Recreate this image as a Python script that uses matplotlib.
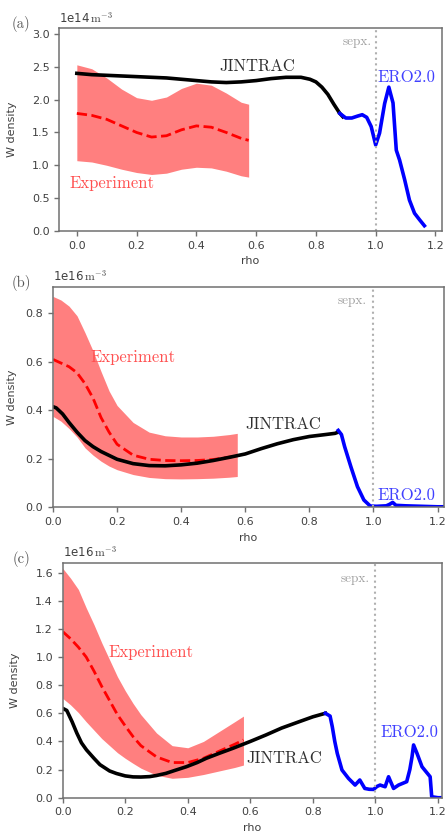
import numpy as np
import matplotlib
matplotlib.use("Agg")
import matplotlib.pyplot as plt

plt.rcParams["mathtext.fontset"] = "cm"
plt.rcParams["font.size"] = 8

# ---------------- panel (a) ----------------
rho_exp_a = [0, 0.05, 0.1, 0.15, 0.2, 0.25, 0.3, 0.35, 0.4, 0.45, 0.5, 0.55, 0.575]
exp_mean_a = [1.79, 1.76, 1.70, 1.60, 1.50, 1.43, 1.45, 1.54, 1.60, 1.58, 1.50, 1.41, 1.38]
exp_upper_a = [2.53, 2.47, 2.33, 2.16, 2.03, 1.99, 2.04, 2.17, 2.25, 2.22, 2.10, 1.96, 1.93]
exp_lower_a = [1.07, 1.05, 1.00, 0.94, 0.89, 0.86, 0.88, 0.94, 0.97, 0.96, 0.91, 0.84, 0.82]
rho_jin_a = [0, 0.05, 0.1, 0.15, 0.2, 0.25, 0.3, 0.35, 0.4, 0.45, 0.5, 0.55, 0.6,
             0.65, 0.7, 0.75, 0.78, 0.8, 0.82, 0.84, 0.86, 0.88, 0.89]
jin_a = [2.40, 2.38, 2.37, 2.36, 2.35, 2.34, 2.33, 2.31, 2.29, 2.27, 2.26, 2.27, 2.29,
         2.32, 2.34, 2.34, 2.31, 2.27, 2.19, 2.08, 1.93, 1.79, 1.74]
rho_ero_a = [0.88, 0.9, 0.92, 0.94, 0.955, 0.97, 0.985, 1.0, 1.013, 1.03, 1.044, 1.058,
             1.069, 1.08, 1.097, 1.113, 1.13, 1.147, 1.163]
ero_a = [1.79, 1.72, 1.72, 1.75, 1.77, 1.73, 1.59, 1.31, 1.49, 1.94, 2.19, 1.95,
         1.23, 1.08, 0.78, 0.47, 0.27, 0.17, 0.08]

# ---------------- panel (b) ----------------
rho_exp_b = [0, 0.025, 0.05, 0.075, 0.1, 0.125, 0.15, 0.175, 0.2, 0.25, 0.3, 0.35,
             0.4, 0.45, 0.5, 0.55, 0.575]
exp_upper_b = [0.87, 0.855, 0.83, 0.79, 0.72, 0.645, 0.56, 0.48, 0.42, 0.35, 0.31, 0.295,
               0.29, 0.29, 0.293, 0.30, 0.305]
exp_mean_b = [0.61, 0.595, 0.58, 0.555, 0.51, 0.45, 0.37, 0.31, 0.26, 0.215, 0.198, 0.193,
              0.192, 0.193, 0.197, 0.207, 0.212]
exp_lower_b = [0.375, 0.355, 0.325, 0.29, 0.245, 0.215, 0.19, 0.17, 0.155, 0.135, 0.123,
               0.118, 0.117, 0.118, 0.12, 0.124, 0.127]
rho_jin_b = [0, 0.01, 0.03, 0.05, 0.075, 0.1, 0.125, 0.15, 0.2, 0.25, 0.3, 0.35, 0.4,
             0.45, 0.5, 0.55, 0.6, 0.65, 0.7, 0.75, 0.8, 0.85, 0.88, 0.89]
jin_b = [0.415, 0.41, 0.385, 0.35, 0.31, 0.275, 0.25, 0.23, 0.198, 0.18, 0.172, 0.171,
         0.175, 0.182, 0.193, 0.206, 0.22, 0.242, 0.262, 0.279, 0.292, 0.30, 0.305, 0.31]
rho_ero_b = [0.89, 0.9, 0.91, 0.93, 0.95, 0.97, 0.99, 1.01, 1.04, 1.05, 1.06, 1.07,
             1.1, 1.15, 1.2, 1.22]
ero_b = [0.317, 0.30, 0.25, 0.165, 0.085, 0.03, 0.005, 0.004, 0.006, 0.012, 0.02, 0.008,
         0.006, 0.004, 0.002, 0.002]

# ---------------- panel (c) ----------------
rho_exp_c = [0, 0.025, 0.05, 0.075, 0.1, 0.125, 0.15, 0.175, 0.2, 0.225, 0.25, 0.3,
             0.35, 0.4, 0.45, 0.5, 0.55, 0.578]
exp_upper_c = [1.63, 1.56, 1.48, 1.35, 1.23, 1.10, 0.98, 0.86, 0.76, 0.67, 0.59, 0.46,
               0.37, 0.355, 0.40, 0.47, 0.54, 0.58]
exp_mean_c = [1.18, 1.13, 1.07, 1.0, 0.90, 0.79, 0.69, 0.59, 0.51, 0.434, 0.37, 0.29,
              0.25, 0.25, 0.28, 0.33, 0.38, 0.41]
exp_lower_c = [0.706, 0.66, 0.605, 0.54, 0.48, 0.42, 0.37, 0.32, 0.28, 0.244, 0.21, 0.16,
               0.138, 0.145, 0.165, 0.19, 0.215, 0.232]
rho_jin_c = [0, 0.013, 0.03, 0.045, 0.06, 0.076, 0.1, 0.119, 0.15, 0.172, 0.2, 0.225,
             0.25, 0.278, 0.3, 0.33, 0.36, 0.395, 0.43, 0.459, 0.5, 0.544, 0.6, 0.65,
             0.7, 0.756, 0.8, 0.84]
jin_c = [0.635, 0.62, 0.54, 0.46, 0.39, 0.34, 0.28, 0.235, 0.19, 0.172, 0.155, 0.148,
         0.147, 0.150, 0.158, 0.173, 0.195, 0.22, 0.25, 0.28, 0.315, 0.351, 0.40, 0.446,
         0.495, 0.54, 0.575, 0.60]
rho_ero_c = [0.84, 0.855, 0.862, 0.87, 0.878, 0.893, 0.914, 0.935, 0.95, 0.966, 0.98,
             0.994, 1.005, 1.015, 1.031, 1.042, 1.058, 1.074, 1.1, 1.11, 1.117, 1.122,
             1.133, 1.149, 1.175, 1.18, 1.2, 1.21]
ero_c = [0.60, 0.58, 0.505, 0.40, 0.315, 0.197, 0.137, 0.09, 0.126, 0.066, 0.06, 0.059,
         0.08, 0.09, 0.078, 0.149, 0.066, 0.09, 0.114, 0.20, 0.29, 0.375, 0.315, 0.22,
         0.149, 0.007, 0.0, 0.0]

panels = [
    dict(tag="(a)", rect=[0.1334, 0.7224, 0.857, 0.2439],
         xlim=(-0.058, 1.221), ylim=(0, 3.09), yticks=np.arange(0, 3.01, 0.5),
         rho_exp=rho_exp_a, mean=exp_mean_a, up=exp_upper_a, lo=exp_lower_a,
         rho_jin=rho_jin_a, jin=jin_a, rho_ero=rho_ero_a, ero=ero_a,
         ylab_x=-0.111,
         t_exp=(0.117, 0.73), t_jin=(0.603, 2.50), t_ero=(1.103, 2.345), t_sep=(0.985, 2.88),
         scale="1e14"),
    dict(tag="(b)", rect=[0.1188, 0.3903, 0.8767, 0.2651],
         xlim=(0, 1.22), ylim=(0, 0.91), yticks=np.arange(0, 0.81, 0.2),
         rho_exp=rho_exp_b, mean=exp_mean_b, up=exp_upper_b, lo=exp_lower_b,
         rho_jin=rho_jin_b, jin=jin_b, rho_ero=rho_ero_b, ero=ero_b,
         ylab_x=-0.091,
         t_exp=(0.25, 0.617), t_jin=(0.72, 0.344), t_ero=(1.103, 0.051), t_sep=(0.98, 0.85),
         scale="1e16"),
    dict(tag="(c)", rect=[0.1406, 0.0412, 0.8498, 0.2825],
         xlim=(0, 1.212), ylim=(0, 1.67), yticks=np.arange(0, 1.61, 0.2),
         rho_exp=rho_exp_c, mean=exp_mean_c, up=exp_upper_c, lo=exp_lower_c,
         rho_jin=rho_jin_c, jin=jin_c, rho_ero=rho_ero_c, ero=ero_c,
         ylab_x=-0.113,
         t_exp=(0.281, 1.03), t_jin=(0.708, 0.282), t_ero=(1.109, 0.467), t_sep=(0.982, 1.556),
         scale="1e16"),
]

fig = plt.figure(figsize=(4.46, 8.32), dpi=100)
serif = "cmr10"
axis_col = "#707070"
text_col = "#404040"

for p in panels:
    ax = fig.add_axes(p["rect"])
    ax.fill_between(p["rho_exp"], p["lo"], p["up"], color="red", alpha=0.5, lw=0)
    ax.plot(p["rho_exp"], p["mean"], "--", color="red", lw=2)
    ax.plot(p["rho_jin"], p["jin"], color="black", lw=2.6, solid_joinstyle="round")
    ax.plot(p["rho_ero"], p["ero"], color="blue", lw=2.6, solid_joinstyle="round")
    ax.axvline(1.0, color="#b0b0b0", ls=":", lw=1.5)

    ax.set_xlim(*p["xlim"])
    ax.set_ylim(*p["ylim"])
    ax.set_xticks(np.arange(0, 1.21, 0.2))
    ax.set_yticks(p["yticks"])
    ax.xaxis.set_major_formatter(matplotlib.ticker.FormatStrFormatter("%.1f"))
    ax.yaxis.set_major_formatter(matplotlib.ticker.FormatStrFormatter("%.1f"))
    ax.tick_params(colors=axis_col, labelcolor=text_col, labelsize=8, width=1, length=3.5)
    for s in ax.spines.values():
        s.set_color(axis_col)
        s.set_linewidth(1.1)

    ax.set_xlabel("rho", fontsize=8, color=text_col)
    ax.set_ylabel("W density", fontsize=8, color=text_col)
    ax.yaxis.set_label_coords(p["ylab_x"], 0.5)

    ax.text(*p["t_exp"], "Experiment", family=serif, fontsize=12, color="#ff5050",
            ha="center", va="center")
    ax.text(*p["t_jin"], "JINTRAC", family=serif, fontsize=12, color="#303030",
            ha="center", va="center")
    ax.text(*p["t_ero"], "ERO2.0", family=serif, fontsize=12, color="#4040ff",
            ha="center", va="center")
    ax.text(*p["t_sep"], "sepx.", family=serif, fontsize=9.5, color="#a0a0a0",
            ha="right", va="center")

    ax.text(0.0, 1.012, p["scale"] + r"$\,\mathrm{m}^{-3}$", transform=ax.transAxes,
            fontsize=8.5, color=text_col, ha="left", va="bottom")
    bbox = ax.get_position()
    fig.text(0.048, bbox.y1 + 0.005, p["tag"], family=serif, fontsize=10.5,
             color="#555555", ha="center", va="center")

fig.savefig("out.png", dpi=100)
